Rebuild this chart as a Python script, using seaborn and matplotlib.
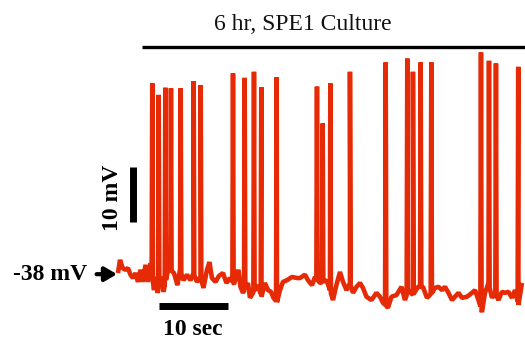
import numpy as np
import pandas as pd
import matplotlib
matplotlib.use("Agg")
import matplotlib.pyplot as plt
import seaborn as sns

# Membrane potential recording, 6 hr SPE1 culture
# Baseline (subthreshold) samples: time in s, membrane potential in mV
base_t = [0.00, 0.29, 0.68, 1.06, 1.45, 1.81, 2.17, 2.54, 2.90, 3.26, 3.62, 3.99,
          4.35, 4.71, 5.22, 5.51, 5.75, 6.16, 6.59, 7.32, 8.12, 8.62, 8.99, 9.49,
          10.00, 10.51, 10.94, 11.45, 11.96, 12.39, 12.90, 13.26, 13.62, 14.13,
          14.64, 15.22, 15.72, 16.23, 16.81, 17.46, 17.75, 18.12, 18.84, 19.13,
          19.57, 20.29, 20.80, 21.30, 21.74, 22.17, 22.54, 23.04, 23.48, 23.91,
          24.49, 25.22, 25.94, 26.38, 27.10, 27.54, 28.12, 28.55, 29.28, 30.22,
          30.72, 31.16, 31.59, 32.17, 32.61, 33.12, 33.62, 34.06, 34.57, 35.07,
          35.51, 36.01, 36.74, 37.46, 37.97, 38.41, 39.13, 39.64, 40.36, 41.09,
          41.59, 42.10, 42.75, 43.48, 44.20, 44.78, 45.51, 45.94, 46.45, 46.96,
          47.39, 47.90, 48.41, 48.84, 49.35, 49.86, 50.58, 51.30, 51.74, 52.25,
          52.75, 53.19, 53.70, 54.20, 54.64, 55.14, 55.65, 56.09, 56.59, 57.10,
          57.54, 58.04, 58.55]
base_v = [-38.2, -35.8, -37.3, -37.6, -37.3, -38.5, -39.1, -38.2, -39.8, -37.6, -39.8, -36.7,
          -39.8, -36.4, -41.3, -38.9, -41.8, -38.9, -41.6, -37.3, -38.2, -40.4, -37.6, -39.5,
          -38.5, -39.5, -38.2, -39.8, -38.9, -40.9, -37.6, -36.2, -39.1, -39.8,
          -38.7, -38.2, -40.0, -39.1, -40.2, -37.6, -40.7, -41.8, -40.0, -42.7,
          -41.8, -40.4, -42.5, -40.0, -41.3, -41.6, -42.7, -43.5, -41.3, -39.8,
          -39.5, -38.9, -39.1, -39.1, -38.5, -39.5, -40.4, -38.9, -40.0, -39.5,
          -41.3, -43.1, -40.7, -38.0, -39.8, -41.3, -40.0, -41.8, -40.7, -40.0,
          -40.9, -42.5, -43.1, -41.8, -42.5, -43.6, -44.5, -42.5, -42.2, -40.7,
          -43.1, -41.3, -42.2, -40.7, -40.7, -42.7, -41.8, -40.9, -40.7, -41.3,
          -40.7, -41.8, -43.1, -42.5, -41.8, -42.7, -42.5, -41.8, -41.3, -43.1,
          -45.3, -41.8, -40.0, -42.7, -41.8, -43.1, -41.6, -41.8, -41.6, -42.7,
          -41.3, -44.0, -40.0]

# Action potentials: time of peak (s) and peak potential (mV)
spike_t = [4.97, 5.90, 6.86, 7.68, 9.09, 10.97, 11.99, 16.67, 18.36, 19.71,
           20.77, 23.00, 28.84, 29.67, 30.77, 33.62, 38.80, 41.93, 42.75, 43.87,
           45.41, 52.61, 53.77, 54.78, 58.01]
spike_v = [-3.7, -5.8, -4.5, -4.6, -4.6, -3.3, -4.0, -1.9, -2.7, -1.6,
           -4.4, -2.6, -4.3, -11.0, -3.7, -1.6, 0.1, 0.8, -1.6, 0.1,
           0.1, 1.9, 0.4, -0.1, -0.7]

# Scale bars and labels
v_bar_mv = 10
t_bar_s = 10
rest_label = "-38 mV"
rest_mv = -38.4
title = "6 hr, SPE1 Culture"

# Assemble the full trace: each spike rises from and returns to the baseline
half_w = 0.09
bt = np.array(base_t)
bv = np.array(base_v)
pts_t = list(bt)
pts_v = list(bv)
for st, sv in zip(spike_t, spike_v):
    for dt, val in ((-half_w, None), (0.0, sv), (half_w, None)):
        tt = st + dt
        pts_t.append(tt)
        pts_v.append(np.interp(tt, bt, bv) if val is None else val)
order = np.argsort(pts_t, kind="stable")
trace = pd.DataFrame({"t": np.array(pts_t)[order], "v": np.array(pts_v)[order]})

sns.set_theme(style="white")
plt.rcParams["font.family"] = ["Liberation Serif", "DejaVu Serif"]

fig = plt.figure(figsize=(5.25, 3.41), dpi=100)
ax = fig.add_axes([0, 0, 1, 1])
ax.set_xlim(-17.10, 58.99)
ax.set_ylim(-50.55, 11.45)
ax.axis("off")

sns.lineplot(data=trace, x="t", y="v", sort=False, estimator=None,
             color="#e62a05", linewidth=3.3, ax=ax)
for line in ax.lines:
    line.set_solid_joinstyle("bevel")
    line.set_solid_capstyle("butt")

# Recording period bar and title
ax.plot([3.52, 58.99], [2.96, 2.96], color="black", lw=2.4, solid_capstyle="butt")
fig.text(302.5 / 525, 1 - 25 / 341, title, ha="center", va="center",
         fontsize=17, color="#111111")

# Voltage scale bar
ax.plot([2.17, 2.17], [-28.85, -28.85 + v_bar_mv], color="black", lw=5,
        solid_capstyle="butt")
ax.text(-0.80, -24.6, f"{v_bar_mv} mV", rotation=90, ha="center", va="center",
        fontsize=17, fontweight="bold", color="black")

# Time scale bar
ax.plot([5.94, 5.94 + t_bar_s], [-44.2, -44.2], color="black", lw=5,
        solid_capstyle="butt")
ax.text(10.87, -48.4, f"{t_bar_s} sec", ha="center", va="center",
        fontsize=17, fontweight="bold", color="black")

# Resting potential marker
ax.annotate("", xy=(-0.14, rest_mv), xytext=(-3.1, rest_mv),
            arrowprops=dict(arrowstyle="-|>,head_length=0.6,head_width=0.35",
                            color="black", lw=3, shrinkA=0, shrinkB=0))
ax.text(-4.45, rest_mv, rest_label, ha="right", va="center",
        fontsize=17, fontweight="bold", color="black")

fig.savefig("out.png", dpi=100)
